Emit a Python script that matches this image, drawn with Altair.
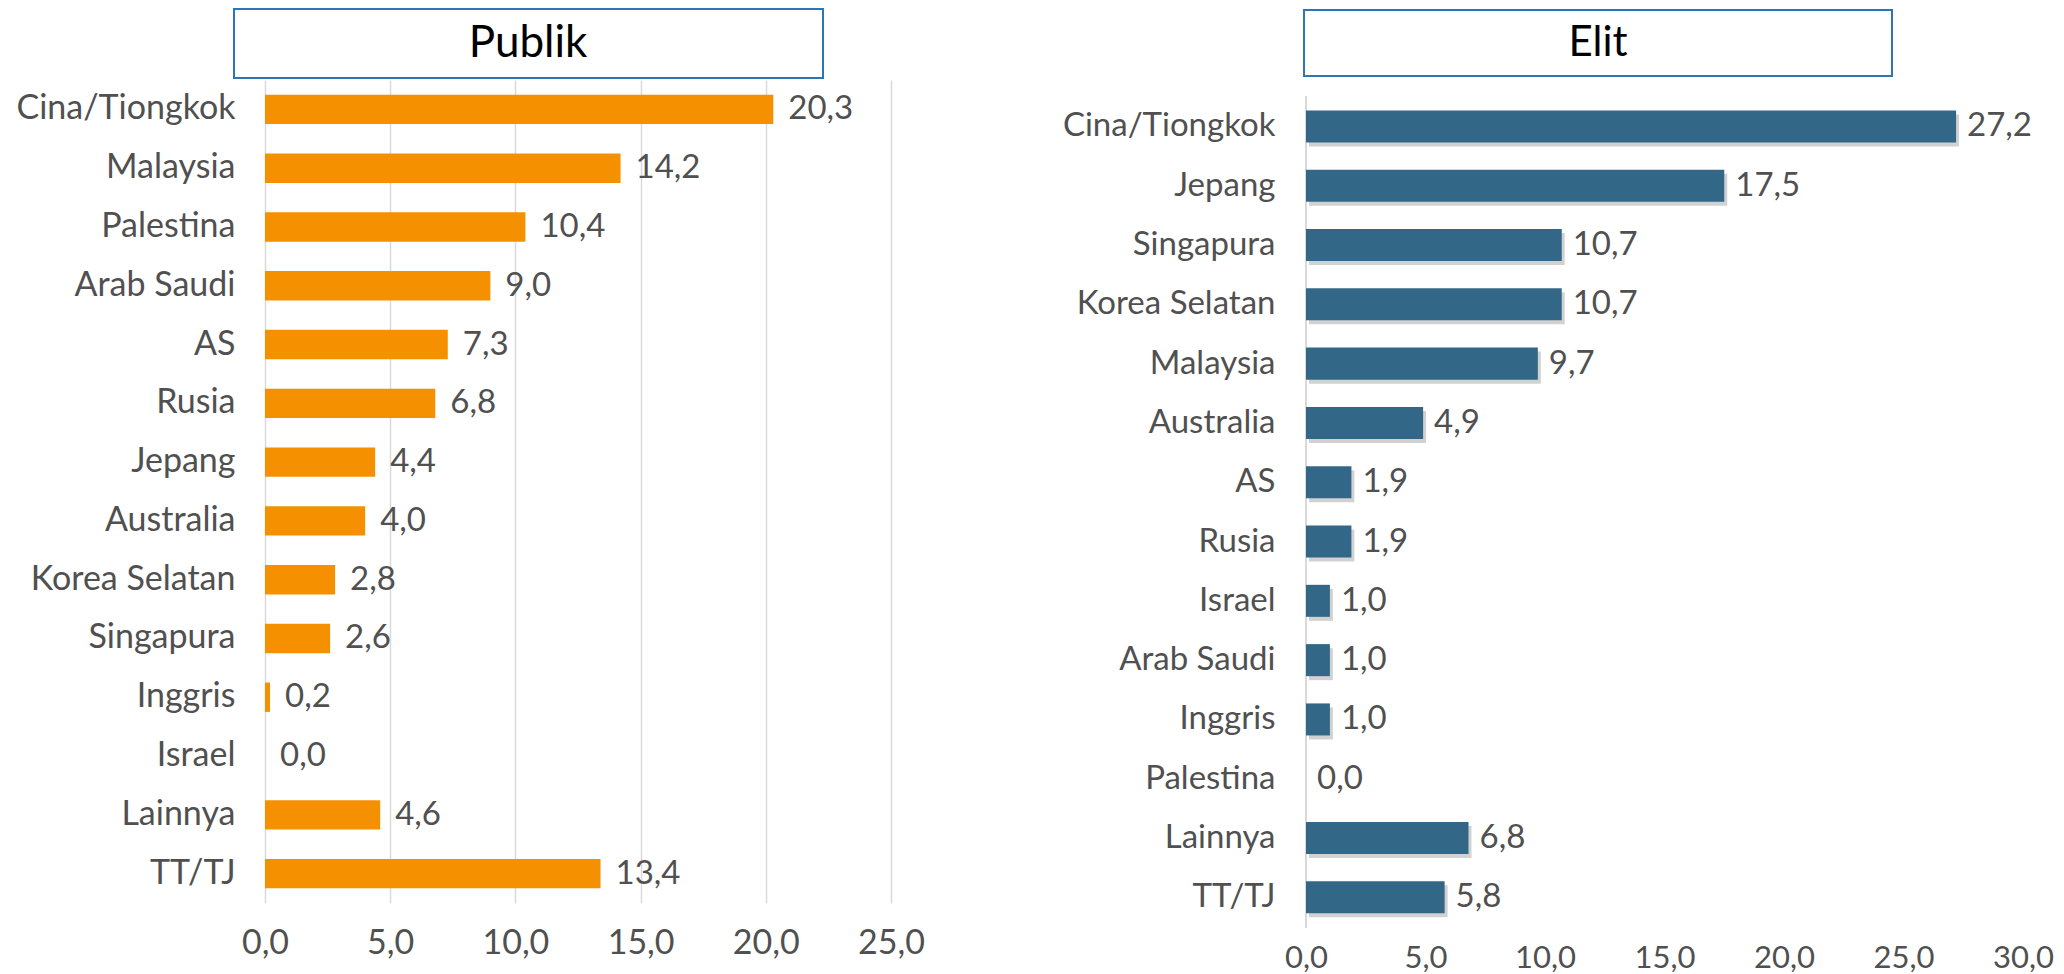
import altair as alt
import pandas as pd

# ---- data ----
pub_countries = ["Cina/Tiongkok", "Malaysia", "Palestina", "Arab Saudi", "AS", "Rusia", "Jepang",
                 "Australia", "Korea Selatan", "Singapura", "Inggris", "Israel", "Lainnya", "TT/TJ"]
pub_values = [20.3, 14.2, 10.4, 9.0, 7.3, 6.8, 4.4, 4.0, 2.8, 2.6, 0.2, 0.0, 4.6, 13.4]

elit_countries = ["Cina/Tiongkok", "Jepang", "Singapura", "Korea Selatan", "Malaysia", "Australia", "AS",
                  "Rusia", "Israel", "Arab Saudi", "Inggris", "Palestina", "Lainnya", "TT/TJ"]
elit_values = [27.2, 17.5, 10.7, 10.7, 9.7, 4.9, 1.9, 1.9, 1.0, 1.0, 1.0, 0.0, 6.8, 5.8]

pub_ticks = [0, 5, 10, 15, 20, 25]
elit_ticks = [0, 5, 10, 15, 20, 25, 30]

pub_title = "Publik"
elit_title = "Elit"

FONT = "Lato"
TXT = "#505050"
ORANGE = "#F59100"
BLUE = "#326787"
BOXC = "#2E75B6"
LBL = "replace(format(datum.value, '.1f'), '.', ',')"

# ---- left panel ----
pub_df = pd.DataFrame({"negara": pub_countries, "nilai": pub_values})
base_l = alt.Chart(pub_df).transform_calculate(
    lbl="replace(format(datum.nilai, '.1f'), '.', ',')")

x_l = alt.X("nilai:Q", scale=alt.Scale(domain=[0, 25], nice=False),
            axis=alt.Axis(values=pub_ticks, grid=True, gridColor="#d9d9d9", gridWidth=1.5,
                          domain=False, ticks=False, labelExpr=LBL, labelPadding=23,
                          labelFlush=False, labelOverlap=False,
                          labelFontSize=34, labelColor=TXT, labelFont=FONT, title=None))
y_l = alt.Y("negara:N", sort=pub_countries,
            scale=alt.Scale(paddingInner=0.5, paddingOuter=0.25),
            axis=alt.Axis(title=None, ticks=False, domain=False, labelPadding=30,
                          labelFontSize=34, labelColor=TXT, labelFont=FONT,
                          minExtent=257, maxExtent=257, labelLimit=400))

bars_l = base_l.mark_bar(color=ORANGE).encode(x=x_l, y=y_l)
text_l = base_l.mark_text(align="left", baseline="middle", dx=15, fontSize=33,
                          color=TXT, font=FONT).encode(
    x="nilai:Q", y=alt.Y("negara:N", sort=pub_countries), text="lbl:N")

tdf_l = pd.DataFrame({"t": [pub_title]})
box_l = alt.Chart(tdf_l).mark_rect(fill="white", stroke=BOXC, strokeWidth=2).encode(
    x=alt.value(-31), x2=alt.value(558), y=alt.value(-71), y2=alt.value(-2))
ttl_l = alt.Chart(tdf_l).mark_text(fontSize=44, color="black", font=FONT, baseline="middle").encode(
    x=alt.value(263), y=alt.value(-36), text="t:N")

left = alt.layer(bars_l, text_l, box_l, ttl_l).properties(width=626, height=823)

# ---- right panel ----
elit_df = pd.DataFrame({"negara": elit_countries, "nilai": elit_values})
base_r = alt.Chart(elit_df).transform_calculate(
    lbl="replace(format(datum.nilai, '.1f'), '.', ',')")

x_r = alt.X("nilai:Q", scale=alt.Scale(domain=[0, 30], nice=False),
            axis=alt.Axis(values=elit_ticks, grid=False, domain=False, ticks=False,
                          labelExpr=LBL, labelPadding=15, labelFontSize=31, labelColor=TXT,
                          labelFlush=False, labelOverlap=False,
                          labelFont=FONT, title=None))
y_r = alt.Y("negara:N", sort=elit_countries,
            scale=alt.Scale(paddingInner=0.46, paddingOuter=0.38, align=0.675),
            axis=alt.Axis(title=None, ticks=False, domain=False, labelPadding=31,
                          labelFontSize=33, labelColor=TXT, labelFont=FONT,
                          minExtent=372, maxExtent=372, labelLimit=400))

axis_r = alt.Chart(pd.DataFrame({"t": [elit_title]})).mark_rule(
    color="#d9d9d9", strokeWidth=2).encode(x=alt.value(0), y=alt.value(16), y2=alt.value(848))
shadow_r = base_r.mark_bar(color="#000000", opacity=0.18, xOffset=3, yOffset=4).encode(x=x_r, y=y_r)
bars_r = base_r.mark_bar(color=BLUE).encode(x="nilai:Q", y=alt.Y("negara:N", sort=elit_countries))
text_r = base_r.mark_text(align="left", baseline="middle", dx=11, fontSize=33,
                          color=TXT, font=FONT).encode(
    x="nilai:Q", y=alt.Y("negara:N", sort=elit_countries), text="lbl:N")

tdf_r = pd.DataFrame({"t": [elit_title]})
box_r = alt.Chart(tdf_r).mark_rect(fill="white", stroke=BOXC, strokeWidth=2).encode(
    x=alt.value(-2), x2=alt.value(586), y=alt.value(-70), y2=alt.value(-4))
ttl_r = alt.Chart(tdf_r).mark_text(fontSize=42, color="black", font=FONT, baseline="middle").encode(
    x=alt.value(292), y=alt.value(-37), text="t:N")

right = alt.layer(shadow_r, axis_r, bars_r, text_r, box_r, ttl_r).properties(width=717, height=848)

chart = alt.hconcat(left, right, spacing=9).properties(
    padding=0, background="white"
).configure_view(stroke=None)

chart.save("out.html", embed_options={"renderer": "svg", "actions": False})
